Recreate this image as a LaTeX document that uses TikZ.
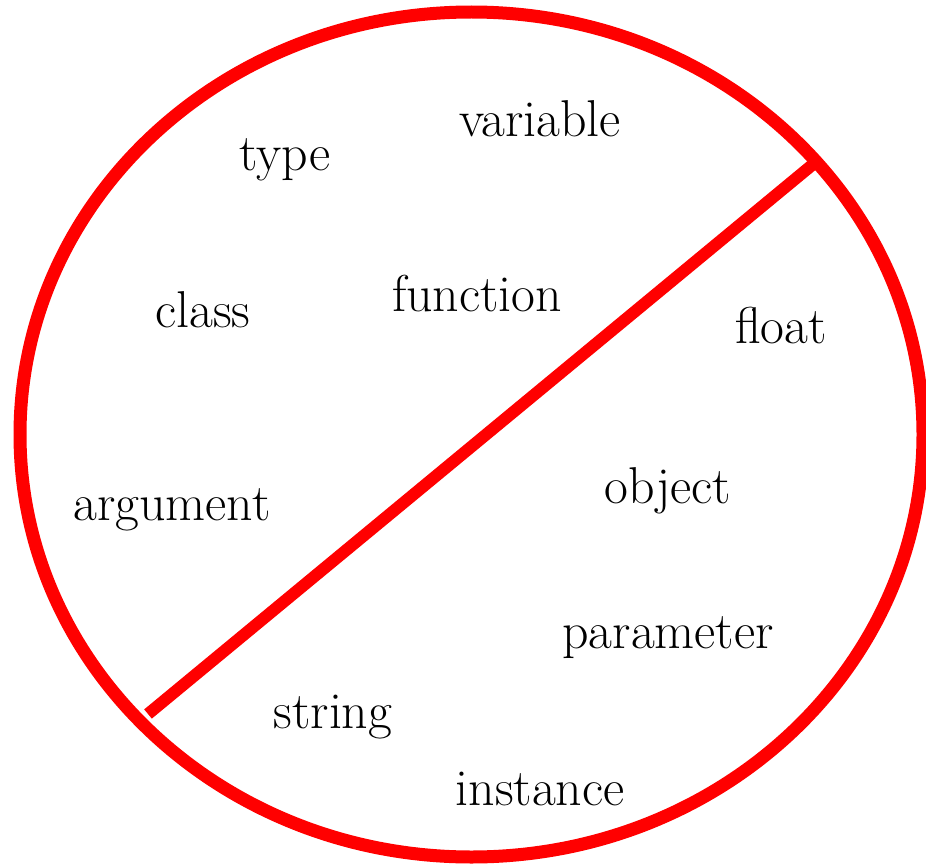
\documentclass[tikz,border=0pt]{standalone}
\usepackage{tikz}

\begin{document}
\begin{tikzpicture}[x=0.02cm,y=-0.02cm,
  word/.style={anchor=base,inner sep=0pt,font=\fontsize{29.5}{35}\selectfont},
  rim/.style={draw=red,line width=0.26cm}]
\useasboundingbox (0,0) rectangle (926,865);
\draw[rim] (471.5,434.5) ellipse (451.5 and 422.5);
\coordinate (lo) at (148,714);
\coordinate (hi) at (817,161);
\draw[rim,line width=0.24cm] (lo) -- (hi);
\node[word] (type) at (285,170) {type};
\node[word] (variable) at (540,136) {variable};
\node[word] (class) at (203,327) {class};
\node[word] (function) at (477,311) {function};
\node[word] (float) at (781,343) {float};
\node[word] (argument) at (172,520) {argument};
\node[word] (object) at (668,503) {object};
\node[word] (parameter) at (668,648) {parameter};
\node[word] (string) at (333,728) {string};
\node[word] (instance) at (540,805) {instance};
\end{tikzpicture}
\end{document}
